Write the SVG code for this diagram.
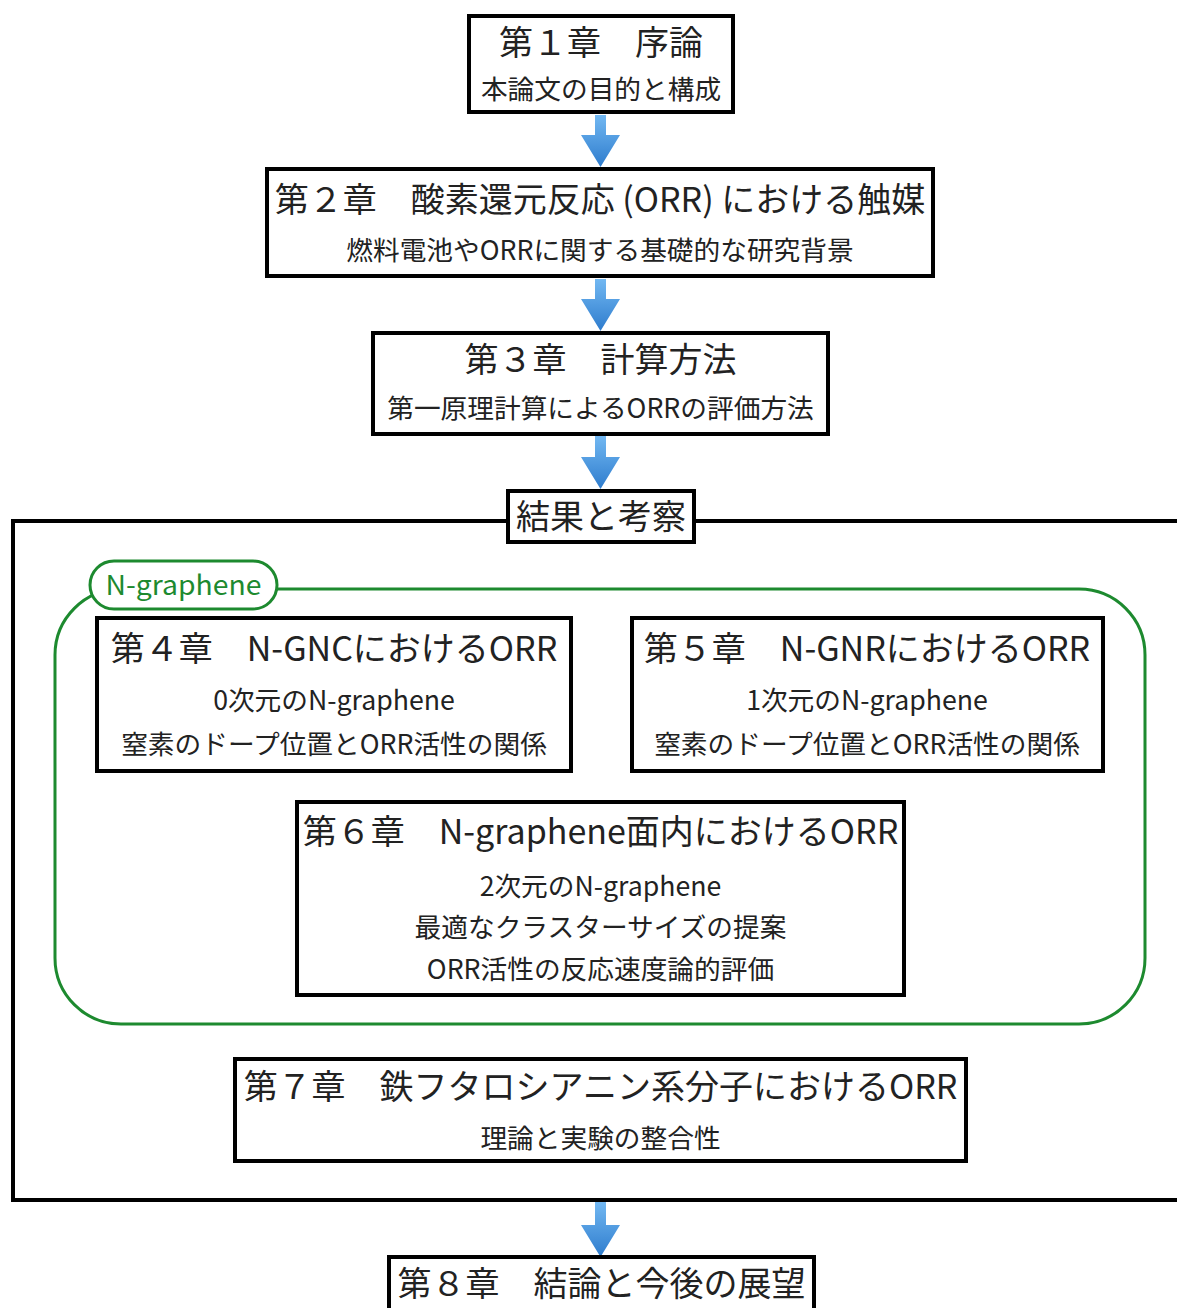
<svg xmlns="http://www.w3.org/2000/svg" width="1177" height="1308" viewBox="0 0 1177 1308">
<defs>
<linearGradient id="ag" x1="0" y1="0" x2="0" y2="1">
<stop offset="0" stop-color="#72b8f2"/>
<stop offset="1" stop-color="#2e7ccd"/>
</linearGradient>
<style>
.box{fill:#fff;stroke:#000;stroke-width:4}
.t{font-family:"Noto Sans CJK JP","Noto Sans",sans-serif;fill:#222;text-anchor:middle}
.h{font-size:34px}
.s{font-size:26.7px}
.g{fill:none;stroke:#1d8a2f;stroke-width:3}
.arrow{fill:url(#ag)}
</style>
</defs>
<rect width="1177" height="1308" fill="#fff"/>

<g id="results-frame">
<rect x="13" y="521" width="1180" height="679" fill="none" stroke="#000" stroke-width="4"/>
</g>

<g id="ngraphene-group">
<rect class="g" x="55" y="589" width="1090" height="435" rx="66" ry="66"/>
<rect x="90" y="561" width="187" height="48" rx="24" ry="24" fill="#fff" stroke="#1d8a2f" stroke-width="3"/>
<text class="t" x="183.5" y="595" textLength="156" lengthAdjust="spacingAndGlyphs" style="font-size:27px;fill:#1d8a2f">N-graphene</text>
</g>

<g id="connectors">
<path class="arrow" d="M595 115 H606 V135 H620 L600.5 167 L581 135 H595 Z"/>
<path class="arrow" d="M595 279 H606 V299 H620 L600.5 331 L581 299 H595 Z"/>
<path class="arrow" d="M595 436 H606 V457 H620 L600.5 489 L581 457 H595 Z"/>
<path class="arrow" d="M595 1202 H606 V1225 H620 L600.5 1257 L581 1225 H595 Z"/>
</g>

<g id="ch1">
<rect class="box" x="469" y="16" width="264" height="96"/>
<text class="t h" x="601" y="55">第１章　序論</text>
<text class="t s" x="601" y="99">本論文の目的と構成</text>
</g>

<g id="ch2">
<rect class="box" x="267" y="169" width="666" height="107"/>
<text class="t h" x="600" y="212">第２章　酸素還元反応 (ORR) における触媒</text>
<text class="t s" x="600" y="260">燃料電池やORRに関する基礎的な研究背景</text>
</g>

<g id="ch3">
<rect class="box" x="373" y="333" width="455" height="101"/>
<text class="t h" x="600.5" y="372">第３章　計算方法</text>
<text class="t s" x="600.5" y="418">第一原理計算によるORRの評価方法</text>
</g>

<g id="results">
<rect class="box" x="508" y="491" width="186" height="51"/>
<text class="t" x="601" y="529" style="font-size:34px">結果と考察</text>
</g>

<g id="ch4">
<rect class="box" x="97" y="618" width="474" height="153"/>
<text class="t h" x="334" y="661">第４章　N-GNCにおけるORR</text>
<text class="t s" x="334" y="710">0次元のN-graphene</text>
<text class="t s" x="334" y="754">窒素のドープ位置とORR活性の関係</text>
</g>

<g id="ch5">
<rect class="box" x="632" y="618" width="471" height="153"/>
<text class="t h" x="867" y="661">第５章　N-GNRにおけるORR</text>
<text class="t s" x="867" y="710">1次元のN-graphene</text>
<text class="t s" x="867" y="754">窒素のドープ位置とORR活性の関係</text>
</g>

<g id="ch6">
<rect class="box" x="297" y="802" width="607" height="193"/>
<text class="t h" x="600.5" y="844">第６章　N-graphene面内におけるORR</text>
<text class="t s" x="600.5" y="896">2次元のN-graphene</text>
<text class="t s" x="600.5" y="937">最適なクラスターサイズの提案</text>
<text class="t s" x="600.5" y="979">ORR活性の反応速度論的評価</text>
</g>

<g id="ch7">
<rect class="box" x="235" y="1059" width="731" height="102"/>
<text class="t h" x="600.5" y="1099">第７章　鉄フタロシアニン系分子におけるORR</text>
<text class="t s" x="600.5" y="1148">理論と実験の整合性</text>
</g>

<g id="ch8">
<rect class="box" x="389" y="1257" width="425" height="60"/>
<text class="t h" x="601.5" y="1296">第８章　結論と今後の展望</text>
</g>
</svg>
